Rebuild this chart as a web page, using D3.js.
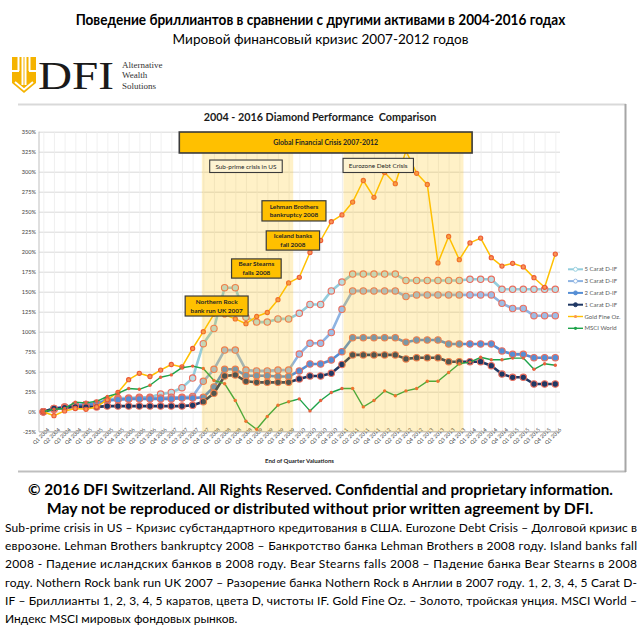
<!DOCTYPE html>
<html><head><meta charset="utf-8">
<script src="https://cdn.jsdelivr.net/npm/d3@7"></script>
<style>
body{margin:0;background:#fff;}
svg{display:block;}
</style></head><body>
<svg id="c" width="641" height="625"></svg>
<script>
// ---------------- DATA ----------------
const quarters = ["Q1 2004","Q2 2004","Q3 2004","Q4 2004","Q1 2005","Q2 2005","Q3 2005","Q4 2005",
"Q1 2006","Q2 2006","Q3 2006","Q4 2006","Q1 2007","Q2 2007","Q3 2007","Q4 2007",
"Q1 2008","Q2 2008","Q3 2008","Q4 2008","Q1 2009","Q2 2009","Q3 2009","Q4 2009",
"Q1 2010","Q2 2010","Q3 2010","Q4 2010","Q1 2011","Q2 2011","Q3 2011","Q4 2011",
"Q1 2012","Q2 2012","Q3 2012","Q4 2012","Q1 2013","Q2 2013","Q3 2013","Q4 2013",
"Q1 2014","Q2 2014","Q3 2014","Q4 2014","Q1 2015","Q2 2015","Q3 2015","Q4 2015","Q1 2016"];

const carat5 = [0,3,5,8,9,11,15,17,17,18,18,22,24,30,42,85,104,155,155,118,112,112,116,116,123,134,134,151,162,
172,172,172,172,172,164,164,164,164,164,164,165.5,165.5,165.5,153,153,153,153,153,153];
const carat3 = [0,3,6,8,9,10,14,16,16,17,17,17,18,18,19,38,53,77,77,52,51,51,52,52,72,85.5,85.5,99,128,
151,151,151,151,151,144,146,146,146,146,146,146,146,146,135.5,129,129,120,120,120];
const carat2 = [0,4,6,8,9,10,14,15,16,16,16,16,16,17,17,18,31,53,53,45,45,45,44,44,51,59.6,59.6,64.6,75,
92.5,92.5,92.5,92.5,92.5,86.7,89.6,89.6,89.6,84.6,84.6,84.6,84.6,84.6,76,71.7,71.7,67.5,67.5,67.5];
const carat1 = [0,4,5,6,6,6,7,7,7,7,7,7,7,7,8,12.5,23,44.6,46,38,36.7,36.7,36.7,36.7,41,44.6,44.6,48,59,
71,71,71,71,71,66,67.5,67.5,67.5,62.5,62.5,62.5,62.5,57.5,47,43,43,34.6,34.6,34.6];
const gold = [0,-5,1,4,3,6,15,24,40,48,44,52,59,56,79,100,122,121,116,110,119,124,140,161,168,
199,214,237.5,246,262,289,268,299,285,326,298,284,186,219,190,211,217,192.5,182,185.5,181,167.5,155.5,197];
const msci = [0,3,4,12,11,13,19,23,29,28,33,43,46,55,57,54,39,35,14,-12,-22,-6,8,12.5,16,
1,14,24,29,29,6,14,26,20,26,29,38,38,49,60,62,68,65,65,67,67,53,60,58];

const seriesNames = ["5 Carat D-IF","3 Carat D-IF","2 Carat D-IF","1 Carat D-IF","Gold Fine Oz.","MSCI World"];
const yTicks = [-25,0,25,50,75,100,125,150,175,200,225,250,275,300,325,350];

// ---------------- STYLE ----------------
const styles = [
  {line:"#93cddd", w:2.6, r:3.2, mf:"#b9dbe3", ms:"#ea6f5f"},
  {line:"#8db3e2", w:2.6, r:3.2, mf:"#9dbde6", ms:"#ea6f5f"},
  {line:"#558ed5", w:2.6, r:3.2, mf:"#558ed5", ms:"#ea6f5f"},
  {line:"#1f3864", w:2.6, r:3.2, mf:"#1f3864", ms:"#ea6f5f"},
  {line:"#ffc000", w:1.5, r:2.1, mf:"#f99552", ms:"#ec5a36"},
  {line:"#1ea34a", w:1.4, r:1.7, mf:"#e8603c", ms:"none"}
];
const allSeries = [carat5,carat3,carat2,carat1,gold,msci];
const FONT = "Lato, 'Open Sans', sans-serif";

const svg = d3.select("#c");

// fit a centred text to a target width by horizontal scaling
function fitText(sel, cx, cy, targetW){
  const w = sel.node().getComputedTextLength();
  sel.attr("x",0).attr("y",0).attr("text-anchor","middle")
     .attr("transform",`translate(${cx},${cy}) scale(${(targetW/w).toFixed(4)},1)`);
  return sel;
}

// ---------------- HEADER ----------------
fitText(svg.append("text").attr("font-family",FONT).attr("font-weight","bold").attr("font-size",14.5).attr("fill","#000")
  .text("Поведение бриллиантов в сравнении с другими активами в 2004-2016 годах"), 320.5, 25, 490);
fitText(svg.append("text").attr("font-family",FONT).attr("font-size",14).attr("fill","#000")
  .text("Мировой финансовый кризис 2007-2012 годов"), 320.5, 44, 296);

// logo
const lg = svg.append("g");
lg.append("path").attr("fill","#f5b300")
  .attr("d","M12,57 L36,57 L36,83 L24,93 L12,83 Z");
lg.append("rect").attr("x",17.5).attr("y",57).attr("width",2).attr("height",14).attr("fill","#fff");
lg.append("rect").attr("x",28.5).attr("y",57).attr("width",2).attr("height",14).attr("fill","#fff");
lg.append("path").attr("fill","none").attr("stroke","#fff").attr("stroke-width",2)
  .attr("d","M12,71 L19,71 M29,71 L36,71 M22.5,57 L22.5,85 M25.5,57 L25.5,85 M15,82 L24,89.5 L33,82");
fitText(lg.append("text").attr("font-family","'Liberation Serif', 'DejaVu Serif', serif")
  .attr("font-size",41).attr("fill","#1a1a1a").text("DFI"), 76, 89, 76);
["Alternative","Wealth","Solutions"].forEach((t,i)=>{
  lg.append("text").attr("x",122).attr("y",68+i*10.3).attr("font-family","'Liberation Serif', serif")
    .attr("font-size",9).attr("fill","#333").text(t);
});

// ---------------- CHART FRAME ----------------
svg.append("line").attr("x1",18).attr("x2",626).attr("y1",104.5).attr("y2",104.5).attr("stroke","#d9d9d9").attr("stroke-width",2);
svg.append("line").attr("x1",18).attr("x2",626).attr("y1",471.5).attr("y2",471.5).attr("stroke","#bfbfbf").attr("stroke-width",2);
svg.append("line").attr("x1",625.5).attr("x2",625.5).attr("y1",104).attr("y2",472).attr("stroke","#a6a6a6").attr("stroke-width",2);

fitText(svg.append("text").style("white-space","pre")
  .attr("font-family",FONT).attr("font-weight","bold").attr("font-size",11).attr("fill","#1a1a1a")
  .text("2004 - 2016 Diamond Performance  Comparison"), 320, 121, 233);

// ---------------- SCALES ----------------
const plotL = 39, plotR = 560;
const x = d3.scalePoint().domain(quarters).range([43.3,555.3]);
const xi = d3.scaleLinear().domain([0,quarters.length-1]).range([43.3,555.3]);
const y = d3.scaleLinear().domain([-25,350]).range([431.7,131.7]);

// horizontal grid + y labels
const ya = svg.append("g").attr("transform",`translate(${plotL},0)`)
  .call(d3.axisLeft(y).tickValues(yTicks).tickSize(-(plotR-plotL)).tickPadding(3).tickFormat(d=>d+"%"));
ya.select(".domain").remove();
ya.selectAll("line").attr("stroke","#d9d9d9").attr("stroke-width",1);
ya.selectAll("text").attr("font-family",FONT).attr("font-size",5.6).attr("fill","#404040");

// vertical grid + x labels
const xa = svg.append("g").attr("transform",`translate(0,${y(-25)})`)
  .call(d3.axisBottom(x).tickSize(-(y(-25)-y(350))));
xa.select(".domain").remove();
xa.selectAll("line").attr("stroke","#ececec").attr("stroke-width",0.8);
xa.selectAll("text").attr("font-family",FONT).attr("font-size",5.3).attr("fill","#404040")
  .attr("text-anchor","end").attr("transform","translate(2.5,-5) rotate(-45)").attr("dy","0.35em");

// axis lines
svg.append("line").attr("x1",plotL).attr("x2",plotL).attr("y1",y(350)).attr("y2",y(-25)).attr("stroke","#bfbfbf");
svg.append("line").attr("x1",plotL).attr("x2",plotR).attr("y1",y(-25)).attr("y2",y(-25)).attr("stroke","#bfbfbf");

fitText(svg.append("text").attr("font-family",FONT).attr("font-weight","bold").attr("font-size",5.6).attr("fill","#262626")
  .text("End of Quarter Valuations"), 299.5, 463, 69);

// ---------------- SERIES ----------------
const line = d3.line().x((d,i)=>x(quarters[i])).y(d=>y(d));
allSeries.forEach((s,k)=>{
  const st = styles[k];
  const g = svg.append("g");
  g.append("path").datum(s).attr("d",line).attr("fill","none")
    .attr("stroke",st.line).attr("stroke-width",st.w).attr("stroke-linejoin","round");
  g.selectAll("circle").data(s).join("circle")
    .attr("cx",(d,i)=>x(quarters[i])).attr("cy",d=>y(d)).attr("r",st.r)
    .attr("fill",st.mf).attr("stroke",st.ms).attr("stroke-width",st.ms==="none"?0:1.1);
});

// ---------------- CRISIS SHADING (drawn over the lines) ----------------
const bands = [[14.86,23.43],[28.14,39.39]];
svg.append("g").selectAll("rect").data(bands).join("rect")
  .attr("x",d=>xi(d[0])).attr("width",d=>xi(d[1])-xi(d[0]))
  .attr("y",y(350)).attr("height",y(-25)-y(350))
  .attr("fill","#ffc000").attr("opacity",0.22);

// ---------------- ANNOTATIONS ----------------
const notes = [
  {x0:12.75,x1:40.2,v0:349.6,v1:323.4,fill:"#ffc000",sw:1.6,fs:7,lines:["Global Financial Crisis 2007-2012"]},
  {x0:15.6,x1:22.4,v0:314.6,v1:299,fill:"#fdf3d2",sw:1.1,fs:6.4,lines:["Sub-prime crisis in US"]},
  {x0:28.1,x1:34.7,v0:316.7,v1:299,fill:"#fdf3d2",sw:1.1,fs:6.4,lines:["Eurozone Debt Crisis"]},
  {x0:20.5,x1:26.5,v0:263.7,v1:238.4,fill:"#ffc000",sw:1.2,fs:6.4,lines:["Lehman Brothers","bankruptcy 2008"]},
  {x0:20.9,x1:25.9,v0:226,v1:202,fill:"#ffc000",sw:1.2,fs:6.4,lines:["Iceland banks","fall 2008"]},
  {x0:17.65,x1:22.3,v0:191,v1:167,fill:"#ffc000",sw:1.2,fs:6.4,lines:["Bear Stearns","falls 2008"]},
  {x0:13.3,x1:19.2,v0:144.6,v1:119.6,fill:"#ffc000",sw:1.2,fs:6.4,lines:["Northern Rock","bank run UK 2007"]}
];
notes.forEach(n=>{
  const X0=xi(n.x0), X1=xi(n.x1), Y0=y(n.v0), Y1=y(n.v1);
  const g = svg.append("g");
  g.append("rect").attr("x",X0).attr("y",Y0).attr("width",X1-X0).attr("height",Y1-Y0)
    .attr("fill",n.fill).attr("stroke","#3a3a3a").attr("stroke-width",n.sw);
  const cy=(Y0+Y1)/2, lh=n.fs*1.35, start=cy-(n.lines.length-1)*lh/2;
  n.lines.forEach((t,i)=>{
    g.append("text").attr("x",(X0+X1)/2).attr("y",start+i*lh).attr("dy","0.35em")
      .attr("text-anchor","middle").attr("font-family",FONT).attr("font-weight",n.fill==="#ffc000"?"bold":"normal")
      .attr("font-size",n.fs).attr("fill","#262626").text(t);
  });
});

// ---------------- LEGEND ----------------
const leg = svg.append("g");
seriesNames.forEach((nm,k)=>{
  const st=styles[k], yy=269.3+k*11.8;
  leg.append("line").attr("x1",568).attr("x2",583).attr("y1",yy).attr("y2",yy)
    .attr("stroke",st.line).attr("stroke-width",k<4?2:1.4);
  leg.append("circle").attr("cx",575.5).attr("cy",yy).attr("r",k<4?2:1.6)
    .attr("fill",k<4?(k<2?"#fff":st.line):(k===4?"#f99552":"#1ea34a"))
    .attr("stroke",k<4?st.line:"none").attr("stroke-width",0.9);
  leg.append("text").attr("x",584.5).attr("y",yy).attr("dy","0.35em")
    .attr("font-family",FONT).attr("font-size",6).attr("fill","#595959").text(nm);
});

// ---------------- FOOTER ----------------
fitText(svg.append("text").attr("font-family",FONT).attr("font-weight","bold").attr("font-size",16).attr("fill","#000")
  .text("© 2016 DFI Switzerland. All Rights Reserved. Confidential and proprietary information."), 320.5, 495, 585);
fitText(svg.append("text").attr("font-family",FONT).attr("font-weight","bold").attr("font-size",16).attr("fill","#000")
  .text("May not be reproduced or distributed without prior written agreement by DFI."), 320, 514, 547);

const foot = [
 "Sub-prime crisis in US – Кризис субстандартного кредитования в США. Eurozone Debt Crisis – Долговой кризис в",
 "еврозоне. Lehman Brothers bankruptcy 2008 – Банкротство банка Lehman Brothers в 2008 году. Island banks fall",
 "2008 - Падение исландских банков в 2008 году. Bear Stearns falls 2008 – Падение банка Bear Stearns в 2008",
 "году. Nothern Rock bank run UK 2007 – Разорение банка Nothern Rock в Англии в 2007 году. 1, 2, 3, 4, 5 Carat D-",
 "IF – Бриллианты 1, 2, 3, 4, 5 каратов, цвета D, чистоты IF. Gold Fine Oz. – Золото, тройская унция. MSCI World –",
 "Индекс MSCI мировых фондовых рынков."
];
foot.forEach((t,i)=>{
  const tx = svg.append("text").attr("x",5).attr("y",532+i*18.2)
    .attr("font-family",FONT).attr("font-size",12).attr("fill","#000").text(t);
  if(i<foot.length-1){
    const w = tx.node().getComputedTextLength();
    if(w>632) tx.attr("transform",`translate(5,0) scale(${(632/w).toFixed(4)},1) translate(-5,0)`);
    else tx.attr("textLength",632).attr("lengthAdjust","spacing");
  }
});
</script>
</body></html>
